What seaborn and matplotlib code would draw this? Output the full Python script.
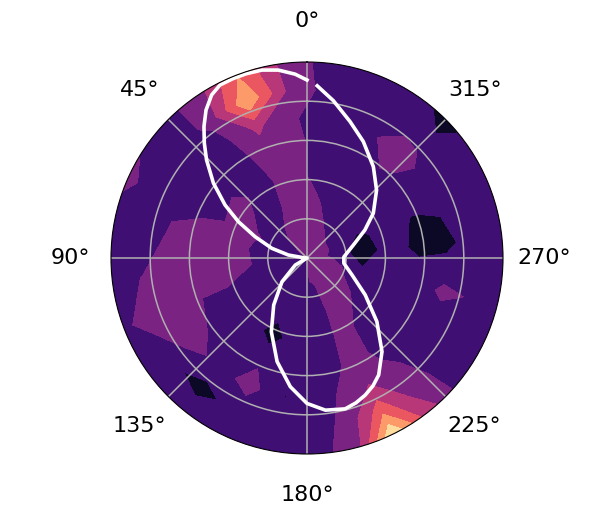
import numpy as np
import seaborn as sns
import matplotlib
matplotlib.use("Agg")
import matplotlib.pyplot as plt

# angle of each column of the contour grid, degrees counter-clockwise from north
sector_deg = [6, 21, 36, 51, 66, 81, 96, 111, 126, 141, 156, 171, 186, 196,
              206, 216, 231, 246, 256, 261, 276, 291, 306, 314, 321, 336, 351]
# last ring sits outside the axes so the fill reaches the rim
ring_r = [0, 0.714, 1.429, 2.143, 2.857, 3.571, 4.286, 5.0, 5.6]

# values along the rings, centre to edge, one list per angle
s006 = [2.5, 2.5, 2.5, 2.3, 2.3, 2.1, 2.7, 2.5, 2.5]
s021 = [2.5, 2.5, 2.2, 2.1, 2.5, 3.2, 5.9, 4.95, 4.95]
s036 = [2.5, 2.2, 1.6, 1.5, 1.5, 1.7, 2.2, 2.15, 2.15]
s051 = [2.2, 1.7, 1.7, 2.4, 1.5, 1.5, 1.5, 1.7, 1.7]
s066 = [1.9, 1.5, 2.1, 2.05, 1.8, 1.85, 1.5, 2.3, 2.3]
s081 = [1.9, 1.5, 1.9, 2.7, 2.7, 2.1, 1.4, 1.2, 1.2]
s096 = [1.9, 1.5, 2.0, 2.7, 2.7, 2.4, 1.95, 1.5, 1.5]
s111 = [1.9, 1.5, 1.7, 1.95, 2.0, 2.7, 2.6, 1.7, 1.7]
s126 = [1.9, 1.5, 1.5, 1.5, 1.6, 2.6, 1.2, 1.5, 1.5]
s141 = [1.9, 1.5, 1.5, 1.5, 1.5, 1.5, 0.75, 1.5, 1.5]
s156 = [1.9, 1.5, 1.5, 0.5, 1.8, 2.4, 1.3, 1.5, 1.5]
s171 = [1.9, 1.6, 1.5, 1.5, 1.5, 0.97, 1.5, 1.5, 1.5]
s186 = [2.5, 1.9, 1.5, 1.5, 1.5, 1.5, 1.6, 1.8, 1.8]
s196 = [2.5, 2.0, 1.7, 1.8, 1.85, 2.3, 2.7, 3.0, 3.0]
s206 = [2.5, 2.2, 2.4, 2.4, 2.6, 2.95, 4.5, 6.95, 6.95]
s216 = [2.5, 2.6, 2.4, 1.9, 1.7, 2.3, 2.9, 3.9, 3.9]
s231 = [2.5, 2.3, 2.0, 1.5, 1.5, 1.5, 1.6, 1.5, 1.5]
s246 = [2.5, 2.2, 1.7, 1.5, 1.5, 1.5, 1.5, 1.5, 1.5]
s256 = [2.5, 2.2, 1.5, 1.5, 1.2, 2.3, 1.9, 1.5, 1.5]
s261 = [2.5, 2.1, 1.0, 1.5, 1.5, 1.8, 1.7, 1.5, 1.5]
s276 = [2.5, 1.8, 0.35, 1.5, 0.7, 0.7, 1.5, 1.5, 1.5]
s291 = [2.5, 1.9, 0.7, 1.5, 0.95, 1.1, 1.5, 1.5, 1.5]
s306 = [2.5, 1.9, 1.5, 1.5, 1.7, 1.5, 1.5, 1.5, 1.5]
s314 = [2.5, 1.95, 1.5, 1.5, 1.7, 2.5, 1.4, 0.4, 0.4]
s321 = [2.5, 2.0, 1.5, 1.5, 1.9, 2.7, 1.5, 1.1, 1.1]
s336 = [2.5, 2.3, 1.6, 1.5, 1.5, 1.5, 1.5, 1.5, 1.5]
s351 = [2.5, 2.6, 2.2, 1.5, 1.5, 1.5, 1.5, 1.5, 1.5]

levels = [0, 1, 2, 3, 4, 5, 6, 7]

# white curve
curve_deg = [0, 3.7, 8.7, 13.5, 18.3, 22.5, 26.7, 30.3, 34.3, 38.1, 41.8, 45.7,
             51.3, 57.1, 62.1, 67.7, 74.6, 80.9, 90, 100, 121, 133.5, 144.7,
             154.2, 163.9, 172.6, 180, 186.9, 194.2, 198.7, 203, 207.3, 211.5, 218.7, 227.7,
             237.6, 249.3, 261.8, 271.6, 285.7, 295.8, 304, 314.3, 324, 334.2,
             342.5, 350.5, 356.6]
curve_r = [4.54, 4.70, 4.85, 4.93, 4.95, 4.95, 4.94, 4.82, 4.57, 4.26, 3.93, 3.58,
           3.06, 2.49, 1.98, 1.43, 0.93, 0.48, 0.05, 0, 0.35, 0.88, 1.47,
           2.09, 2.75, 3.31, 3.71, 3.91, 3.97, 3.90, 3.80, 3.67, 3.50, 3.06, 2.41,
           1.76, 1.23, 0.95, 0.94, 1.23, 1.64, 2.04, 2.48, 2.88, 3.30,
           3.65, 4.07, 4.40]

columns = [s006, s021, s036, s051, s066, s081, s096, s111, s126, s141, s156, s171,
           s186, s196, s206, s216, s231, s246, s256, s261, s276, s291, s306, s314,
           s321, s336, s351, s006]
z = np.array(columns).T
theta = np.radians(sector_deg + [sector_deg[0] + 360])

fig = plt.figure(figsize=(5.98, 5.11), dpi=100)
ax = fig.add_axes([111 / 598, 57 / 511, 392 / 598, 392 / 511], projection='polar')
ax.set_theta_zero_location('N')
ax.set_theta_direction(1)

ax.contourf(theta, ring_r, z, levels=levels, cmap=sns.color_palette('magma', as_cmap=True))
sns.lineplot(x=np.radians(curve_deg), y=curve_r, sort=False, estimator=None,
             color='white', linewidth=2.6, ax=ax)

ax.set_ylim(0, 5)
ax.set_yticks([1, 2, 3, 4])
ax.set_yticklabels([])
ax.set_xlabel('')
ax.set_ylabel('')
ax.grid(True, color='#b0b0b0', linewidth=1.1)
ax.tick_params(axis='x', labelsize=16, pad=19)

fig.savefig('out.png', dpi=100)
